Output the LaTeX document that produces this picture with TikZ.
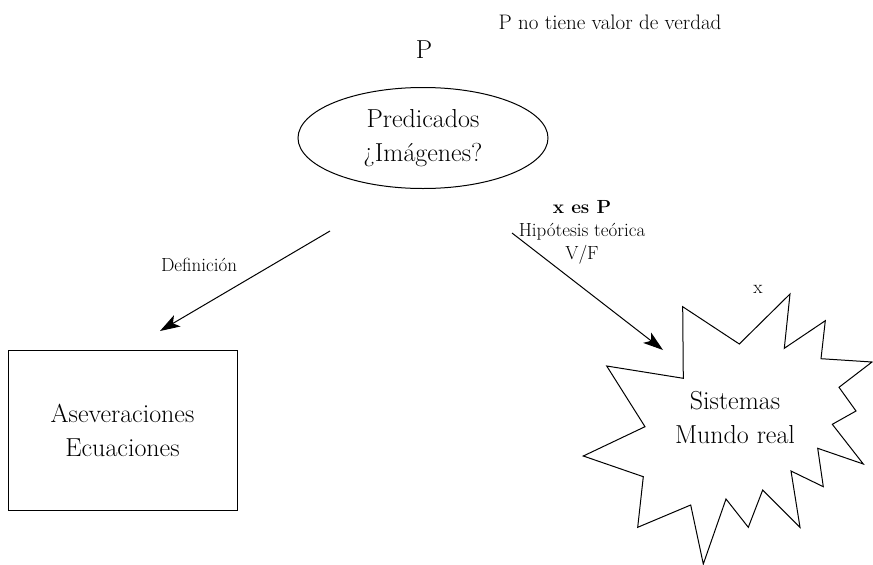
\documentclass[tikz,border=0pt]{standalone}
\usepackage{fontspec}
\usepackage{tikz}
\usetikzlibrary{arrows.meta,shapes.geometric}

\newcommand{\grande}{\fontsize{26}{34}\selectfont}
\newcommand{\chico}{\fontsize{19}{23}\selectfont}

\begin{document}
\begin{tikzpicture}[x=1pt,y=1pt,line width=1pt]
\tikzstyle{every node}+=[inner sep=0pt, align=center]
\tikzstyle{flecha}=[-{Stealth[length=20pt,width=13pt,inset=5pt]}]
\tikzstyle{textog}=[font=\grande]
\tikzstyle{textoc}=[font=\chico]
\useasboundingbox (0,0) rectangle (873,-565);
% predicados
\node [textog, draw, ellipse, minimum width=250, minimum height=101] (pred) at (423,-138) {Predicados\\¿Imágenes?};
\node [textog] (pp) at (424,-50) {P};
\node [textoc, font=\fontsize{21}{23}\selectfont] (nota) at (610,-22) {P no tiene valor de verdad};
% aseveraciones
\node [textog, draw, minimum width=229, minimum height=160] (asev) at (122.5,-430) {Aseveraciones\\Ecuaciones};
% sistemas
\draw [black] (682.7,-306.7) -- (739.3,-344) -- (790,-294) -- (784.3,-348.3) -- (825.3,-320.7) -- (821,-358.7) -- (872,-362) -- (839,-387.3) -- (856,-411) -- (832.3,-424.3) -- (863.3,-464) -- (817.7,-448.3) -- (823.3,-486.7) -- (791,-471) -- (800,-527.3) -- (762.7,-490) -- (748.3,-527.3) -- (726,-499) -- (703.3,-564) -- (690.7,-505) -- (637.7,-527.3) -- (643.3,-476.7) -- (583.3,-456) -- (645,-426.7) -- (606.7,-366) -- (683.3,-378.3) -- cycle;
\node [textog] (sist) at (735,-418) {Sistemas\\Mundo real};
\node [textoc] (xx) at (758,-289) {x};
% flechas
\coordinate (d1) at (330,-231);
\coordinate (d2) at (160,-331);
\draw [flecha] (d1) -- (d2);
\node [textoc] (defn) at (199,-265) {Definición};
\coordinate (h1) at (512,-233);
\coordinate (h2) at (663,-350);
\draw [flecha] (h1) -- (h2);
\node [textoc] (hip) at (582,-232) {\textbf{x es P}\\Hipótesis teórica\\V/F};
\end{tikzpicture}
\end{document}
